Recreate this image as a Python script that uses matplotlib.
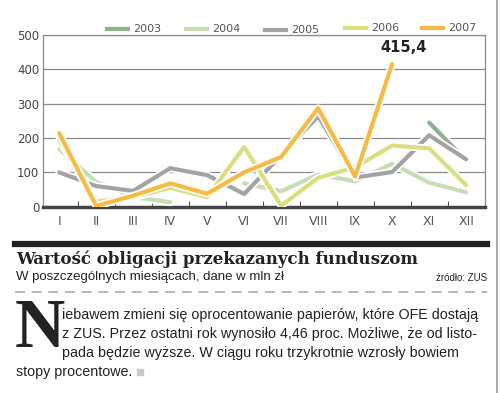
import numpy as np
import matplotlib
matplotlib.use("Agg")
import matplotlib.pyplot as plt
import matplotlib.patheffects as pe
from matplotlib.lines import Line2D

nan = np.nan
months = ['I', 'II', 'III', 'IV', 'V', 'VI', 'VII', 'VIII', 'IX', 'X', 'XI', 'XII']
years = ['2003', '2004', '2005', '2006', '2007']
v2003 = [nan, nan, nan, nan, nan, nan, nan, nan, nan, nan, 245, 135]
v2004 = [168, 72, 28, 13, nan, 68, 45, 94, 74, 125, 70, 42]
v2005 = [100, 60, 46, 112, 92, 37, 150, 264, 85, 101, 208, 138]
v2006 = [195, 15, 27, 55, 28, 174, 3, 84, 115, 178, 170, 63]
v2007 = [214, 2, 32, 68, 38, 100, 145, 287, 88, 415.4, nan, nan]
series = [v2003, v2004, v2005, v2006, v2007]
colors = ['#8fb08c', '#c9dcb6', '#a3a3a3', '#d9df7e', '#f6bb45']
yticks = [0, 100, 200, 300, 400, 500]

W, H = 500, 393
fig = plt.figure(figsize=(W / 100, H / 100), dpi=100)
fig.patch.set_facecolor('white')

def fx(px):
    return px / W

def fy(py):
    return 1 - py / H

ax = fig.add_axes([fx(43.3), fy(206.7), fx(485 - 43.3), (206.7 - 35) / H])
x = np.arange(len(months))
for vals, c in zip(series, colors):
    ax.plot(x, vals, color=c, lw=3.0, solid_capstyle='round', solid_joinstyle='round',
            zorder=3, path_effects=[pe.Stroke(linewidth=5.5, foreground='white'), pe.Normal()])

ax.annotate('415,4', xy=(9, v2007[9]), xytext=(8, 12), textcoords='offset points',
            ha='center', va='center', fontsize=10.5, fontweight='bold', color='#222222')

ax.set_xlim(-0.43, 11.51)
ax.set_ylim(0, 500)
ax.set_yticks(yticks)
ax.set_yticklabels([str(t) for t in yticks])
ax.set_xticks(x)
ax.set_xticklabels(months)
ax.set_xticks(np.arange(0.5, 11, 1), minor=True)
ax.tick_params(axis='y', length=0, labelsize=8.5, labelcolor='#444444', pad=3)
ax.tick_params(axis='x', which='major', length=0, labelsize=9, labelcolor='#555555', pad=6)
ax.tick_params(axis='x', which='minor', direction='in', length=4, color='#555555', width=0.8)
ax.grid(axis='y', color='#8a8a8a', lw=0.9, zorder=1)
ax.set_axisbelow(True)
for s in ['left', 'top', 'right']:
    ax.spines[s].set_color('#8a8a8a')
    ax.spines[s].set_linewidth(0.9)
ax.spines['bottom'].set_color('#444444')
ax.spines['bottom'].set_linewidth(2.5)

# legend drawn above the axes
leg_x = [107, 186, 265, 345, 422]
leg_y = [29, 29, 30, 28, 28]
for lx, ly, c, yr in zip(leg_x, leg_y, colors, years):
    fig.add_artist(Line2D([fx(lx), fx(lx + 21)], [fy(ly), fy(ly)], color=c, lw=3))
    fig.text(fx(lx + 26), fy(ly), yr, fontsize=8, color='#555555', va='center', ha='left')

# right border
fig.add_artist(Line2D([fx(497), fx(497)], [0, 1], color='#9a9a9a', lw=1.2))

# header block
fig.add_artist(Line2D([fx(15), fx(487)], [fy(244), fy(244)], color='#222222', lw=4.5))
fig.text(fx(16), fy(259), 'Wartość obligacji przekazanych funduszom', fontsize=12.0,
         fontweight='bold', family='DejaVu Serif', color='#222222', va='center', ha='left')
fig.text(fx(16), fy(277), 'W poszczególnych miesiącach, dane w mln zł', fontsize=9.5,
         family='Liberation Sans', color='#222222', va='center', ha='left')
fig.text(fx(487), fy(278), 'źródło: ZUS', fontsize=7,
         family='Liberation Sans', color='#222222', va='center', ha='right')
fig.add_artist(Line2D([fx(15), fx(487)], [fy(292), fy(292)], color='#aaaaaa', lw=1.2,
                      linestyle=(0, (6, 4))))

# body text with drop cap
fig.text(fx(15), fy(347), 'N', fontsize=50, fontweight='bold', family='Liberation Serif',
         color='#222222', va='baseline', ha='left')
body = [
    'iebawem zmieni się oprocentowanie papierów, które OFE dostają',
    'z ZUS. Przez ostatni rok wynosiło 4,46 proc. Możliwe, że od listo-',
    'pada będzie wyższe. W ciągu roku trzykrotnie wzrosły bowiem',
]
for i, line in enumerate(body):
    fig.text(fx(62), fy(315 + i * 19), line, fontsize=10.3, family='Liberation Sans',
             color='#222222', va='center', ha='left')
fig.text(fx(16), fy(372), 'stopy procentowe.', fontsize=10.3, family='Liberation Sans',
         color='#222222', va='center', ha='left')
fig.add_artist(plt.Rectangle((fx(137), fy(375)), fx(6), 6 / H, color='#c8c8c8'))

fig.savefig('out.png', dpi=100)
